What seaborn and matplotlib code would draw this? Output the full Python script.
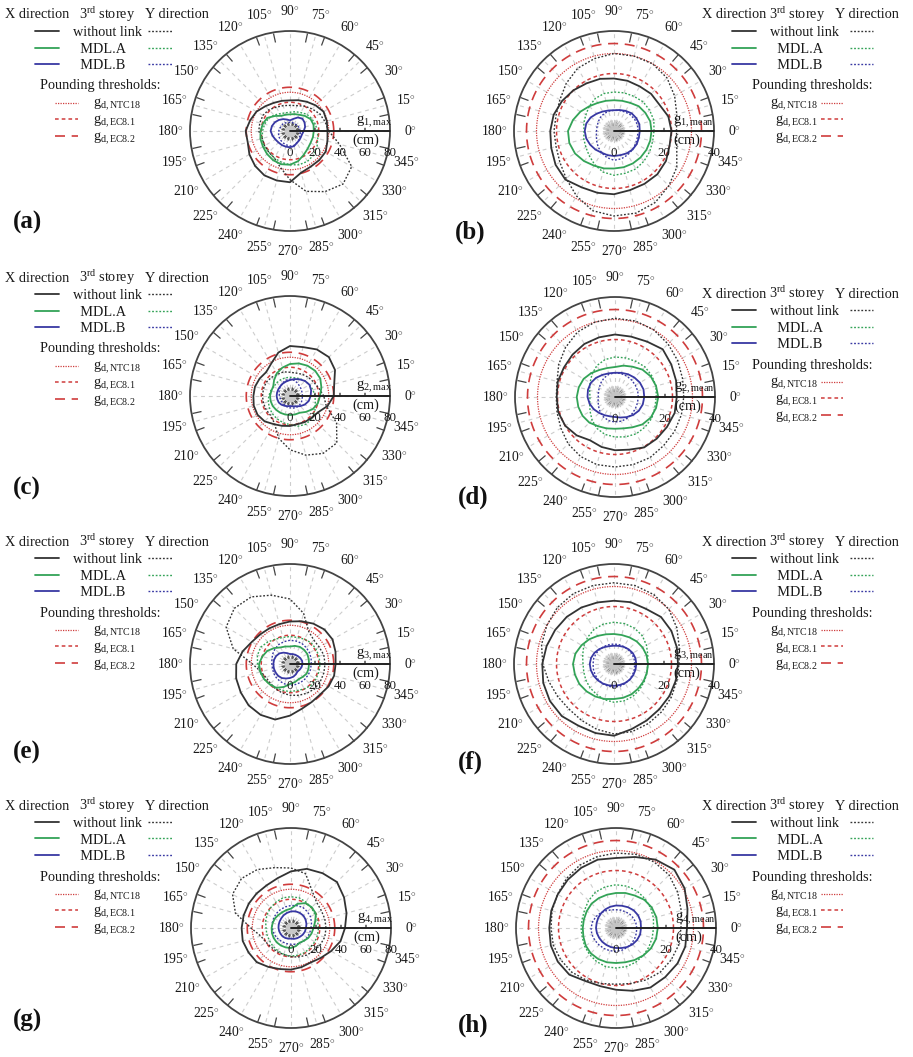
import numpy as np
import matplotlib
matplotlib.use("Agg")
import matplotlib.pyplot as plt
import seaborn as sns

# ---------------- data (cm), angles every 15 deg ----------------
angles = list(range(0, 360, 15))
angle_labels = [f"{a}$^{{\\circ}}$" for a in angles]
max_ticks = [0, 20, 40, 60, 80]
mean_ticks = [0, 20, 40]

thr_ntc18 = 31.0
thr_ec81 = 23.0
thr_ec82 = 35.0

a_x_nolink = [30, 30.5, 31, 29, 27, 25.5, 24.5, 25, 26, 28, 31, 33, 35.5, 35, 37.5, 39.5, 41, 41, 41, 34.5, 33, 33, 33, 31]
a_y_nolink = [31, 29, 27.5, 25, 23, 21, 20.5, 21, 22, 24, 25, 25, 25, 23, 23.5, 24, 25, 30, 39, 50, 56, 60, 57, 41]
a_x_mdla = [19, 19.5, 19, 17, 15, 14, 13.3, 13.5, 14, 17, 21, 22.5, 23.5, 24.5, 25, 26, 27, 27.5, 27, 25, 22, 20, 19, 19]
a_y_mdla = [22, 21, 20, 19, 17, 16, 15, 15, 16, 18, 20, 21, 22, 23, 24, 24, 25, 26, 27, 28, 28, 27, 25, 23]
a_x_mdlb = [11, 12.5, 13.5, 14, 12.5, 10, 8.5, 9.5, 11, 12.5, 14, 15, 15.5, 14.5, 13.5, 13, 13, 13, 13, 12.5, 11, 10.5, 10, 10]
a_y_mdlb = [8, 8, 7.5, 7, 7, 7, 7, 7, 7.5, 8, 8, 8.5, 9, 9.5, 10, 10.5, 11, 11.5, 12, 12, 11, 10, 9, 8.5]

b_x_nolink = [23, 22.5, 21, 21, 20.6, 20.8, 21, 21.6, 22, 23, 24, 25, 25.5, 26, 27, 27.5, 26, 25.6, 25.3, 24.5, 24.4, 24.5, 24, 23]
b_y_nolink = [25, 26, 28, 30, 31, 31, 31, 30, 29, 27, 25, 24, 24, 24, 25, 27, 30, 33, 34, 34, 33, 31, 29, 26]
b_x_mdla = [15, 15, 14.5, 14, 13, 12.5, 12.3, 12.5, 13, 14, 15.5, 17, 18.4, 18.5, 18, 17, 16, 15.5, 15, 15, 15, 15, 15, 15]
b_y_mdla = [16, 16.5, 16.5, 16.5, 16, 15.8, 15.6, 15.5, 15, 14, 13, 12.5, 12, 12.5, 13, 14, 15.5, 17, 17.7, 17.5, 17.5, 17, 16.5, 16]
b_x_mdlb = [10.3, 10.5, 10.3, 10, 9.3, 8.7, 8.3, 8.5, 9, 9.8, 10.8, 11.5, 11.7, 11.5, 11, 10.5, 10, 10, 10, 10, 10.3, 10.5, 10.5, 10.3]
b_y_mdlb = [9.6, 9.7, 9.5, 9.2, 8.8, 8.5, 8.3, 8.2, 8, 7.7, 7.3, 7, 7, 7.3, 8, 9, 10, 11, 11.7, 11.5, 11, 10.5, 10, 9.7]

c_x_nolink = [35, 36.6, 41.6, 44, 43, 40.5, 40, 36, 30, 27, 28, 29, 29.3, 30, 30, 28.7, 26, 24.7, 24, 23.3, 24, 24.5, 26, 31]
c_y_nolink = [27, 24, 22, 21, 20, 19, 19, 20, 20, 21, 22, 22, 22, 22, 22, 22, 25, 35, 43, 49, 53, 53, 43, 30]
c_x_mdla = [24, 26, 28, 28.5, 28, 27, 25.6, 23.5, 21, 18, 15.5, 15.5, 16, 16, 16, 15.7, 15.5, 15.3, 15.2, 15.3, 15.5, 18, 21, 23]
c_y_mdla = [20, 19, 18, 17, 16, 15, 15, 15, 15, 15, 15, 16, 17, 18, 19, 20, 21, 22, 23, 25, 26, 25, 23, 21]
c_x_mdlb = [16.5, 17.5, 18, 17, 15.4, 14, 12.8, 12, 11.5, 11, 10.8, 10.7, 10.7, 10.5, 10.4, 9.8, 9, 8.5, 8, 8.5, 9.5, 11.5, 13.7, 15.5]
c_y_mdlb = [10, 10, 10.5, 11, 12, 13, 13.5, 13, 12, 11, 10, 9, 8.5, 8, 8, 8, 8.5, 9, 9.5, 10, 10.5, 10.5, 10.5, 10]

d_x_nolink = [24.7, 25.3, 26, 27, 25.6, 25, 25, 24.7, 24.5, 24, 23.6, 23.7, 23.3, 23.5, 23, 21.7, 20, 20.7, 21.3, 21.8, 23.3, 23.6, 24, 24.7]
d_y_nolink = [27.5, 28, 29, 30, 31, 31.5, 31.5, 31, 30, 28, 26, 24, 23.5, 24, 25, 26.5, 27.5, 28, 28, 28, 28, 27.5, 27.5, 27.5]
d_x_mdla = [17.3, 17, 16.5, 15.5, 14, 13, 12, 12, 12.5, 13.5, 14.5, 15, 15.3, 15.2, 15, 14.5, 13.5, 13, 12.7, 13, 14, 15.5, 16.5, 17]
d_y_mdla = [16.5, 17, 17, 17, 16.5, 16.2, 16, 15.5, 14.5, 13, 11.5, 10.5, 10, 10.5, 11.5, 13, 14.5, 15.5, 16, 16.5, 17, 17, 17, 16.5]
d_x_mdlb = [11.7, 11.8, 11.5, 11, 10.5, 10, 9.7, 9.8, 10.2, 10.8, 11.2, 11.2, 11, 10.5, 9.8, 9, 8.4, 8, 8, 8.5, 9.3, 10.2, 11, 11.5]
d_y_mdlb = [9.3, 9.4, 9.4, 9.5, 9.6, 9.7, 9.7, 9.4, 8.8, 8, 7.3, 6.9, 6.7, 7, 7.6, 8.4, 9.2, 9.8, 10, 10, 9.8, 9.6, 9.4, 9.3]

e_x_nolink = [36.5, 37.7, 39.3, 39, 37.3, 35.4, 34, 33, 33, 33.6, 35.3, 39.2, 43, 44.6, 45.5, 46.8, 47, 46, 41.3, 37, 35, 34.3, 35.7, 36.5]
e_y_nolink = [28, 28, 27, 27, 30, 42, 52, 57, 62, 63, 59, 47, 30, 24, 22, 22, 23, 24, 25, 26, 27, 28, 28, 28]
e_x_mdla = [15.2, 15.5, 16, 16, 15.8, 15, 14, 14.5, 15.3, 18, 21, 23, 24.8, 24.5, 24, 23, 22, 19, 16, 15, 14, 14.5, 15.4, 15.3]
e_y_mdla = [24, 24, 24, 24, 23, 22, 22, 22, 23, 25, 27, 27, 26, 25, 24, 23, 22, 22, 22, 22, 23, 24, 24, 24]
e_x_mdlb = [10, 10, 9.5, 8.9, 8.5, 8.2, 8, 9, 10.5, 12, 12.8, 13.2, 13.3, 13.4, 13.4, 13.4, 13, 12, 11.2, 10.5, 9.5, 8.5, 9, 9.6]
e_y_mdlb = [17, 17.5, 18, 18.5, 19, 19, 19, 18.5, 18, 17, 16, 15, 14.5, 14.5, 15, 15.5, 16, 16.5, 17, 17, 17, 17, 17, 17]

f_x_nolink = [25.6, 26, 26.5, 26.6, 25.5, 25.6, 25.3, 25.5, 26.1, 26.7, 27.2, 27.9, 28.7, 29.3, 29.6, 29.5, 28.5, 28.6, 28.7, 27, 26.1, 25.6, 25.6, 25.6]
f_y_nolink = [26, 27, 29, 31, 32, 32.5, 32.5, 32.5, 32.5, 32, 31, 30, 28.5, 27, 26, 25.5, 26, 27, 28, 28, 27.5, 27, 26.5, 26]
f_x_mdla = [13.6, 13.5, 13.2, 12.8, 12.3, 12, 12, 12.3, 13, 14, 15, 16, 16.4, 16.2, 16, 15.5, 15, 14.5, 14, 14, 14, 13.8, 13.7, 13.6]
f_y_mdla = [13.5, 14, 15, 16, 16.5, 16.7, 16.7, 16.5, 16, 15, 14, 13, 12.4, 12.5, 13, 13.5, 14, 14.8, 15.3, 15.3, 15, 14.5, 14, 13.7]
f_x_mdlb = [8.9, 8.9, 8.7, 8.3, 7.9, 7.5, 7.3, 7.4, 7.8, 8.4, 9, 9.5, 9.7, 9.6, 9.4, 9.2, 9, 8.8, 8.7, 8.7, 8.8, 8.9, 8.9, 8.9]
f_y_mdlb = [8.3, 8.3, 8.2, 8.1, 8, 8, 8, 8, 8.1, 8.2, 8.3, 8.4, 8.4, 8.5, 8.7, 8.9, 9.1, 9.2, 9.3, 9.2, 9, 8.8, 8.6, 8.4]

g_x_nolink = [43.2, 46, 49, 52, 50.6, 49, 45.3, 41.3, 39.3, 39, 39, 39.2, 39.5, 40, 39.2, 38.7, 36, 34, 33.3, 32.4, 31.8, 33.8, 37, 41]
g_y_nolink = [28, 28, 28, 29, 34, 45, 48, 50, 54, 56, 54, 46, 32, 25, 23, 22, 22, 22, 23, 24, 25, 26, 27, 28]
g_x_mdla = [18, 20, 23, 23.5, 23, 20, 15.5, 14.8, 14.4, 14.5, 15, 15.2, 15.5, 15.8, 16, 16.2, 16.2, 16.1, 16, 15, 13.7, 14.5, 16, 17]
g_y_mdla = [22, 22, 22, 23, 24, 25, 25, 25, 24, 23, 22, 21, 20, 20, 20, 20.5, 21, 22, 22.5, 22.5, 22.5, 22, 22, 22]
g_x_mdlb = [12, 12.8, 13.5, 14, 14, 13.8, 13.3, 12.5, 11.8, 11, 10.5, 10.2, 10, 9.8, 9.6, 9.5, 9.2, 8.8, 8.5, 9, 9.5, 10, 10.8, 11.5]
g_y_mdlb = [16, 17, 18, 18.5, 19, 18.5, 18, 17.5, 17, 16.5, 16, 15.5, 15, 14.5, 14, 13.5, 13, 13, 13, 13.5, 14, 14.5, 15, 15.5]

h_x_nolink = [28.4, 29.6, 31.7, 33, 31.6, 29.4, 28, 28.3, 27.8, 27.3, 26.9, 26.8, 26.7, 27, 26.9, 26.4, 24.5, 24.1, 24.7, 26, 27.5, 27.8, 28.4, 28.7]
h_y_nolink = [26, 27, 28.5, 30, 30.5, 30.5, 30, 29.5, 29, 28, 27, 26.5, 26, 26, 25.5, 25, 24, 23, 22.5, 23, 24, 25, 25.5, 26]
h_x_mdla = [16.7, 16.7, 16.5, 16, 15, 14.5, 14, 13.8, 13.8, 13.8, 13.5, 13.3, 13.3, 13.5, 14, 14.3, 14.3, 14.2, 14, 14.2, 14.8, 15.5, 16.2, 16.6]
h_y_mdla = [15, 15.5, 16, 16.5, 17, 17.3, 17.3, 17, 16.5, 15.5, 14.5, 14, 14, 14, 14.5, 15, 15.5, 16, 16, 16, 15.8, 15.5, 15.2, 15]
h_x_mdlb = [10, 10.2, 10.2, 10, 9.6, 9.2, 9, 8.8, 8.6, 8.4, 8.2, 8, 8, 7.9, 7.8, 7.8, 7.8, 7.9, 8, 8.3, 8.8, 9.3, 9.7, 10]
h_y_mdlb = [8.3, 8.2, 8, 7.8, 7.5, 7.4, 7.3, 7.5, 8, 8.6, 9.2, 9.7, 10, 10, 9.8, 9.6, 9.5, 9.4, 9.3, 9.2, 9, 8.8, 8.6, 8.4]

# ---------------- style ----------------
sns.set_theme(style="white")
SERIF = "Liberation Serif"
plt.rcParams["font.family"] = [SERIF, "DejaVu Serif"]
plt.rcParams["mathtext.fontset"] = "custom"
plt.rcParams["mathtext.rm"] = SERIF
plt.rcParams["mathtext.it"] = SERIF + ":italic"
plt.rcParams["mathtext.bf"] = SERIF + ":bold"
plt.rcParams["text.color"] = "#1a1a1a"

C_BLACK = "#333333"
C_GREEN = "#33a357"
C_BLUE = "#3838a3"
C_RED = "#cf3c3c"
LS_DOT = (0, (1.3, 1.3))
LS_NTC = (0, (1.0, 1.0))
LS_EC1 = (0, (2.4, 2.0))
LS_EC2 = (0, (6.0, 4.0))

W, H = 913, 1057
fig = plt.figure(figsize=(W / 100, H / 100), dpi=100)
fig.patch.set_facecolor("white")
FS = 10.3


def fx(x):
    return x / W


def fy(y):
    return 1 - y / H


def closed(vals):
    th = np.deg2rad(np.array(angles + [360.0]))
    r = np.array(list(vals) + [vals[0]], dtype=float)
    return th, r


def curve(ax, vals, color, ls, lw):
    th, r = closed(vals)
    sns.lineplot(x=th, y=r, ax=ax, sort=False, estimator=None,
                 color=color, linestyle=ls, linewidth=lw)
    return ax.lines[-1]


def circle(ax, val, color, ls, lw):
    th = np.deg2rad(np.arange(0, 361, 3))
    r = np.full(th.shape, val)
    sns.lineplot(x=th, y=r, ax=ax, sort=False, estimator=None,
                 color=color, linestyle=ls, linewidth=lw)
    return ax.lines[-1]


panels = [
    dict(tag="(a)", kind="max", idx=1, cx=290, cy=131, side="left", ly=15, lab=(13, 222),
         data=(a_x_nolink, a_x_mdla, a_x_mdlb, a_y_nolink, a_y_mdla, a_y_mdlb)),
    dict(tag="(b)", kind="mean", idx=1, cx=614, cy=131, side="right", ly=15, lab=(455, 232),
         data=(b_x_nolink, b_x_mdla, b_x_mdlb, b_y_nolink, b_y_mdla, b_y_mdlb)),
    dict(tag="(c)", kind="max", idx=2, cx=290, cy=396, side="left", ly=278, lab=(13, 488),
         data=(c_x_nolink, c_x_mdla, c_x_mdlb, c_y_nolink, c_y_mdla, c_y_mdlb)),
    dict(tag="(d)", kind="mean", idx=2, cx=615, cy=397, side="right", ly=294, lab=(458, 497),
         data=(d_x_nolink, d_x_mdla, d_x_mdlb, d_y_nolink, d_y_mdla, d_y_mdlb)),
    dict(tag="(e)", kind="max", idx=3, cx=290, cy=664, side="left", ly=542, lab=(13, 752),
         data=(e_x_nolink, e_x_mdla, e_x_mdlb, e_y_nolink, e_y_mdla, e_y_mdlb)),
    dict(tag="(f)", kind="mean", idx=3, cx=614, cy=664, side="right", ly=542, lab=(458, 762),
         data=(f_x_nolink, f_x_mdla, f_x_mdlb, f_y_nolink, f_y_mdla, f_y_mdlb)),
    dict(tag="(g)", kind="max", idx=4, cx=291, cy=928, side="left", ly=806, lab=(13, 1020),
         data=(g_x_nolink, g_x_mdla, g_x_mdlb, g_y_nolink, g_y_mdla, g_y_mdlb)),
    dict(tag="(h)", kind="mean", idx=4, cx=616, cy=928, side="right", ly=806, lab=(458, 1025),
         data=(h_x_nolink, h_x_mdla, h_x_mdlb, h_y_nolink, h_y_mdla, h_y_mdlb)),
]

R = 100  # px radius of the polar plot

for p in panels:
    ticks = max_ticks if p["kind"] == "max" else mean_ticks
    rmax = ticks[-1]
    ax = fig.add_axes([fx(p["cx"] - R), fy(p["cy"] + R), 2 * R / W, 2 * R / H],
                      projection="polar")
    ax.set_facecolor("none")
    ax.set_ylim(0, rmax)

    # angular grid / labels
    ax.set_xticks(np.deg2rad(angles))
    ax.set_xticklabels(angle_labels, fontsize=9.8)
    ax.set_xticks(np.deg2rad(np.arange(0, 360, 10)), minor=True)
    ax.tick_params(axis="x", which="major", length=0, pad=7.5, colors="#1a1a1a")
    ax.tick_params(axis="x", which="minor", direction="in", length=6.5, width=0.9,
                   color="#444444", bottom=True, top=True)
    ax.xaxis.grid(True, color="#cdcdcd", linestyle=(0, (3.5, 3.5)), linewidth=0.8)
    ax.set_yticks(ticks)
    ax.set_yticklabels([])
    ax.yaxis.grid(False)
    ax.spines["polar"].set_color("#444444")
    ax.spines["polar"].set_linewidth(1.3)

    # grey centre mark
    if p["kind"] == "mean":
        ax.vlines(np.deg2rad(np.arange(0, 360, 10)), rmax * 0.04, rmax * 0.11,
                  colors="#cacaca", linewidth=0.8)
        ax.scatter([0], [0], s=45, color="#c4c4c4", zorder=2)
    else:
        ax.scatter([0], [0], s=60, color="#c8c8c8", zorder=2)

    # thresholds
    h_ntc = circle(ax, thr_ntc18, C_RED, LS_NTC, 0.9)
    h_ec1 = circle(ax, thr_ec81, C_RED, LS_EC1, 1.1)
    h_ec2 = circle(ax, thr_ec82, C_RED, LS_EC2, 1.2)

    xw, xa, xb, yw, ya, yb = p["data"]
    h_yw = curve(ax, yw, C_BLACK, LS_DOT, 1.0)
    h_ya = curve(ax, ya, C_GREEN, LS_DOT, 1.0)
    h_yb = curve(ax, yb, C_BLUE, LS_DOT, 1.0)
    h_xw = curve(ax, xw, C_BLACK, "-", 1.3)
    h_xa = curve(ax, xa, C_GREEN, "-", 1.3)
    h_xb = curve(ax, xb, C_BLUE, "-", 1.3)
    ax.set_xlabel("")
    ax.set_ylabel("")

    # radial axis along 0 deg
    ax.axvline(0, color="#222222", linewidth=1.4, zorder=5)
    for t in ticks:
        ax.annotate(str(t), xy=(0, t), xytext=(0, -15.5), textcoords="offset points",
                    ha="center", va="center", fontsize=9.3, annotation_clip=False)
    for t in ticks[1:-1]:
        ax.annotate("", xy=(0, t), xytext=(0, 4), textcoords="offset points",
                    arrowprops=dict(arrowstyle="-", color="#222222", lw=0.9),
                    annotation_clip=False)
    if p["kind"] == "max":
        ax.annotate(f"g$_{{\\rm {p['idx']},max}}$", xy=(0, 0.84 * rmax), xytext=(0, 6.5),
                    textcoords="offset points", ha="center", va="center", fontsize=10.5,
                    annotation_clip=False)
        ax.annotate("(cm)", xy=(0, 0.76 * rmax), xytext=(0, -6.5), textcoords="offset points",
                    ha="center", va="center", fontsize=10.3, annotation_clip=False)
    else:
        ax.annotate(f"g$_{{\\rm {p['idx']},mean}}$", xy=(0, 0.79 * rmax), xytext=(0, 6.5),
                    textcoords="offset points", ha="center", va="center", fontsize=10.5,
                    annotation_clip=False)
        ax.annotate("(cm)", xy=(0, 0.73 * rmax), xytext=(0, -6.5), textcoords="offset points",
                    ha="center", va="center", fontsize=10.3, annotation_clip=False)

    # ---------------- legends ----------------
    ly = p["ly"]
    if p["side"] == "left":
        hx = dict(xdir=5, third=107, ydir=177, sample=35, col=0.45,
                  ttl=40, thr_x=55, thr_first=True, thr_pad=1.05, thr_len=1.6)
    else:
        hx = dict(xdir=702, third=797, ydir=867, sample=732, col=0.75,
                  ttl=752, thr_x=770, thr_first=False, thr_pad=0.25, thr_len=1.5)
    fig.text(fx(hx["xdir"]), fy(ly), "X direction", ha="left", va="center", fontsize=FS)
    fig.text(fx(hx["third"]), fy(ly), "3$^{\\rm rd}$ storey", ha="center", va="center", fontsize=FS)
    fig.text(fx(hx["ydir"]), fy(ly), "Y direction", ha="center", va="center", fontsize=FS)
    fig.legend(handles=[h_xw, h_xa, h_xb, h_yw, h_ya, h_yb],
               labels=["without link", "  MDL.A", "  MDL.B", " ", " ", " "],
               ncol=2, loc="center left", bbox_to_anchor=(fx(hx["sample"]), fy(ly + 34)),
               frameon=False, fontsize=FS, handlelength=1.65, handletextpad=1.0,
               columnspacing=hx["col"], labelspacing=0.25, borderpad=0, borderaxespad=0)
    fig.text(fx(hx["ttl"]), fy(ly + 71), "Pounding thresholds:", ha="left", va="center", fontsize=FS)
    fig.legend(handles=[h_ntc, h_ec1, h_ec2],
               labels=["g$_{\\rm d,NTC18}$", "g$_{\\rm d,EC8.1}$", "g$_{\\rm d,EC8.2}$"],
               loc="center left", bbox_to_anchor=(fx(hx["thr_x"]), fy(ly + 107)),
               markerfirst=hx["thr_first"], frameon=False, fontsize=FS,
               handlelength=hx["thr_len"], handletextpad=hx["thr_pad"],
               labelspacing=0.04, borderpad=0, borderaxespad=0)

    fig.text(fx(p["lab"][0]), fy(p["lab"][1]), p["tag"], ha="left", va="center",
             fontsize=18, fontweight="bold", color="#111111")

fig.savefig("out.png", dpi=100, facecolor="white")
